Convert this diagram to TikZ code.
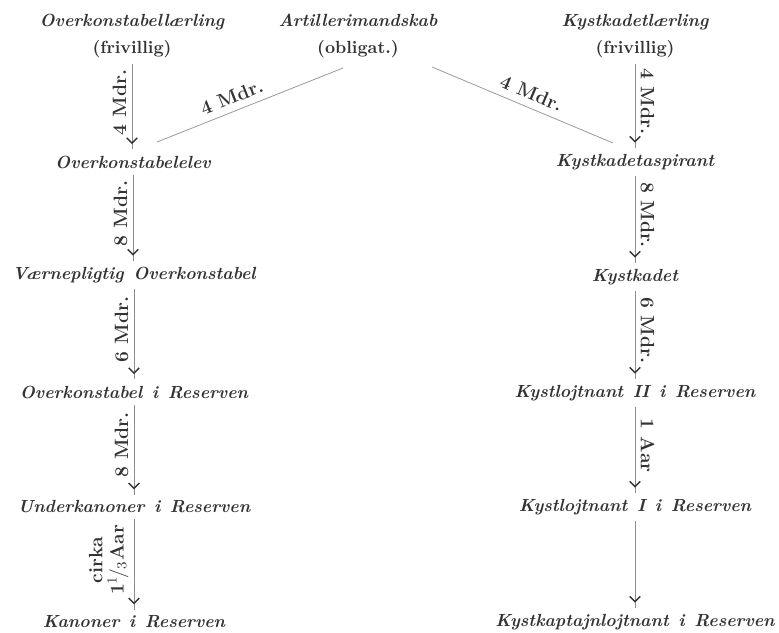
\documentclass[tikz,border=0pt]{standalone}
\usetikzlibrary{arrows.meta,decorations.markings}

\newcommand\rangfont{\fontsize{10}{15}\selectfont\bfseries\itshape}
\newcommand\ordrum{\spaceskip=0.55em\relax}

\tikzset{
  rang/.style={font=\rangfont, execute at begin node=\ordrum,
    align=center, text=black!80},
  tid/.style={font=\fontsize{11}{12}\selectfont\bfseries, align=center, text=black!80, inner sep=3pt},
  gang/.style={draw=black!45, line width=0.45pt,
    decoration={markings, mark=at position -3pt with {\arrow[black!80, line width=0.8pt]{Straight Barb[length=3pt,width=6pt]}}},
    postaction={decorate}},
  skraa/.style={draw=black!40, line width=0.45pt},
}

\begin{document}
\begin{tikzpicture}[x=0.02cm, y=-0.02cm]
  \useasboundingbox (0,0) rectangle (779,633);

  % Oeverste raekke
  \node[rang] (lrl) at (132,36) {Overkonstabellærling\\{\upshape(frivillig)}};
  \node[rang] (art) at (358,36) {Artillerimandskab\\{\upshape(obligat.)}};
  \node[rang] (kyl) at (635,36) {Kystkadetlærling\\{\upshape(frivillig)}};

  % Venstre kolonne
  \node[rang] (elev)  at (133,162) {Overkonstabelelev};
  \node[rang] (vaern) at (134,275) {Værnepligtig Overkonstabel};
  \node[rang] (okres) at (134,392) {Overkonstabel i Reserven};
  \node[rang] (ukres) at (134,507) {Underkanoner i Reserven};
  \node[rang] (kres)  at (134,622) {Kanoner i Reserven};

  % Hoejre kolonne
  \node[rang] (asp) at (635,162) {Kystkadetaspirant};
  \node[rang] (kad) at (635,277) {Kystkadet};
  \node[rang] (kl2) at (635,393) {Kystlojtnant II i Reserven};
  \node[rang] (kl1) at (635,507) {Kystlojtnant I i Reserven};
  \node[rang] (kkl) at (635,622) {Kystkaptajnlojtnant i Reserven};

  % Skraa linjer fra mandskabet
  \coordinate (artL) at (343,68);
  \coordinate (artR) at (432,67);
  \coordinate (elevR) at (157,142);
  \coordinate (aspL) at (613,143);
  \draw[skraa] (elevR) -- node[tid, sloped, above, inner sep=4pt, pos=0.43] {4 Mdr.} (artL);
  \draw[skraa] (artR) -- node[tid, sloped, above, inner sep=4pt, pos=0.52] {4 Mdr.} (aspL);

  % Pile venstre
  \draw[gang] (lrl.south) -- (lrl.south |- elev.north)
    node[tid, pos=0.45, anchor=south, rotate=90] {4 Mdr.};
  \draw[gang] (elev.south) -- (elev.south |- vaern.north)
    node[tid, pos=0.45, anchor=south, rotate=90] {8 Mdr.};
  \draw[gang] (vaern.south) -- (vaern.south |- okres.north)
    node[tid, pos=0.45, anchor=south, rotate=90] {6 Mdr.};
  \draw[gang] (okres.south) -- (okres.south |- ukres.north)
    node[tid, pos=0.45, anchor=south, rotate=90] {8 Mdr.};
  \draw[gang] (ukres.south) -- (ukres.south |- kres.north)
    node[tid, pos=0.45, anchor=south, rotate=90] {cirka\\1$^1\!/_3$Aar};

  % Pile hoejre
  \draw[gang] (kyl.south) -- (kyl.south |- asp.north)
    node[tid, pos=0.45, anchor=south, rotate=-90] {4 Mdr.};
  \draw[gang] (asp.south) -- (asp.south |- kad.north)
    node[tid, pos=0.45, anchor=south, rotate=-90] {8 Mdr.};
  \draw[gang] (kad.south) -- (kad.south |- kl2.north)
    node[tid, pos=0.45, anchor=south, rotate=-90] {6 Mdr.};
  \draw[gang] (kl2.south) -- (kl2.south |- kl1.north)
    node[tid, pos=0.45, anchor=south, rotate=-90] {1 Aar};
  \draw[gang] (kl1.south) -- (kl1.south |- kkl.north);
\end{tikzpicture}
\end{document}
